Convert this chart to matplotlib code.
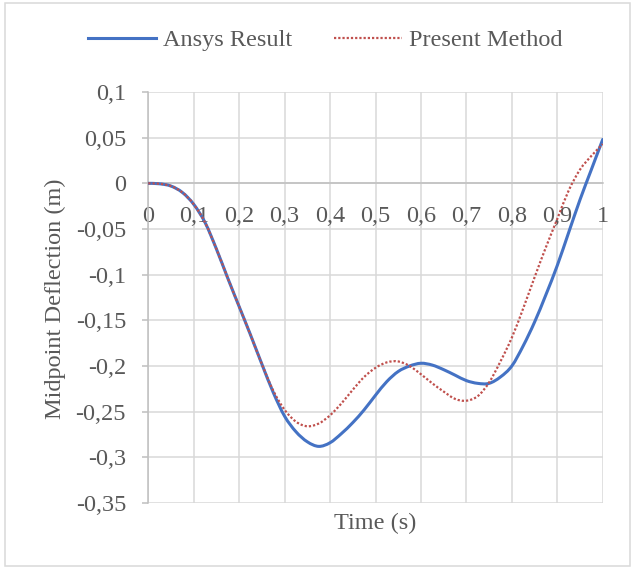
import matplotlib.pyplot as plt
from matplotlib.patches import Rectangle, PathPatch
from matplotlib.path import Path
from matplotlib.lines import Line2D

# time axis (s) and midpoint deflection (m)
time = [0.000, 0.025, 0.050, 0.075, 0.100, 0.125, 0.150, 0.175, 0.200, 0.225,
        0.250, 0.275, 0.300, 0.325, 0.350, 0.375, 0.400, 0.425, 0.450, 0.475,
        0.500, 0.525, 0.550, 0.575, 0.600, 0.625, 0.650, 0.675, 0.700, 0.725,
        0.750, 0.775, 0.800, 0.825, 0.850, 0.875, 0.900, 0.925, 0.950, 0.975,
        1.000]
ansys = [0.0, -0.0005, -0.003, -0.010, -0.023, -0.043, -0.072, -0.104, -0.135, -0.166,
         -0.198, -0.229, -0.255, -0.272, -0.283, -0.288, -0.284, -0.274, -0.262, -0.248,
         -0.232, -0.217, -0.206, -0.200, -0.197, -0.199, -0.204, -0.210, -0.216, -0.219,
         -0.219, -0.212, -0.200, -0.178, -0.152, -0.122, -0.090, -0.054, -0.018, 0.015,
         0.048]
present = [0.0, -0.0005, -0.003, -0.010, -0.023, -0.043, -0.072, -0.104, -0.135, -0.166,
           -0.198, -0.227, -0.248, -0.261, -0.266, -0.263, -0.254, -0.241, -0.226, -0.212,
           -0.202, -0.196, -0.195, -0.200, -0.209, -0.219, -0.228, -0.236, -0.238, -0.233,
           -0.218, -0.195, -0.169, -0.137, -0.103, -0.070, -0.039, -0.008, 0.015, 0.030,
           0.043]

xticks = [0, 0.1, 0.2, 0.3, 0.4, 0.5, 0.6, 0.7, 0.8, 0.9, 1.0]
xlabels = ["0", "0,1", "0,2", "0,3", "0,4", "0,5", "0,6", "0,7", "0,8", "0,9", "1"]
yticks = [0.1, 0.05, 0, -0.05, -0.1, -0.15, -0.2, -0.25, -0.3, -0.35]
ylabels = ["0,1", "0,05", "0", "-0,05", "-0,1", "-0,15", "-0,2", "-0,25", "-0,3", "-0,35"]

txt = "#595959"
blue = "#4472C4"
red = "#C0504D"
dots = (0, (1, 0.9))

plt.rcParams['font.family'] = ['Liberation Serif', 'DejaVu Serif']
plt.rcParams['font.size'] = 17.5


def smooth(x, y):
    # excel-style smoothed line: catmull-rom segments as cubic beziers
    n = len(x)
    verts = [(x[0], y[0])]
    codes = [Path.MOVETO]
    for i in range(n - 1):
        a = max(i - 1, 0)
        b = min(i + 2, n - 1)
        c1 = (x[i] + (x[i + 1] - x[a]) / 6, y[i] + (y[i + 1] - y[a]) / 6)
        c2 = (x[i + 1] - (x[b] - x[i]) / 6, y[i + 1] - (y[b] - y[i]) / 6)
        verts += [c1, c2, (x[i + 1], y[i + 1])]
        codes += [Path.CURVE4] * 3
    return Path(verts, codes)


fig = plt.figure(figsize=(6.35, 5.69), dpi=100)
ax = fig.add_axes([148.3 / 635, 1 - 503 / 569, 454.4 / 635, 411 / 569])

ax.add_patch(PathPatch(smooth(time, ansys), fill=False, edgecolor=blue, lw=2.2,
                       capstyle="round", zorder=3))
ax.add_patch(PathPatch(smooth(time, present), fill=False, edgecolor=red, lw=1.6,
                       linestyle=dots, zorder=4))

ax.set_xlim(0, 1)
ax.set_ylim(-0.35, 0.1)
ax.set_xticks(xticks, xlabels)
ax.set_yticks(yticks, ylabels)
ax.grid(True, color="#D9D9D9", lw=1.1, zorder=0)
ax.set_axisbelow(True)

for s in ["top", "right"]:
    ax.spines[s].set_visible(False)
ax.spines["left"].set_color("#BFBFBF")
ax.spines["left"].set_linewidth(1.1)
ax.spines["bottom"].set_position(("data", 0))
ax.spines["bottom"].set_color("#BFBFBF")
ax.spines["bottom"].set_linewidth(1.1)

ax.tick_params(axis="x", length=0, pad=16, colors=txt)
ax.tick_params(axis="y", length=4, width=1.1, color="#BFBFBF", pad=12, labelcolor=txt)

fig.text(55 / 635, 1 - 299 / 569, "Midpoint Deflection (m)", rotation=90,
         ha="center", va="center", color=txt)
fig.text(375 / 635, 1 - 523 / 569, "Time (s)", ha="center", va="center", color=txt)

handles = [Line2D([], [], color=blue, lw=2.2),
           Line2D([], [], color=red, lw=1.6, linestyle=dots)]
leg = fig.legend(handles, ["Ansys Result", "Present Method"], loc="center",
                 bbox_to_anchor=(325 / 635, 1 - 40 / 569), ncol=2, frameon=False,
                 handlelength=2.8, handletextpad=0.3, columnspacing=1.7)
for t in leg.get_texts():
    t.set_color(txt)

fig.patches.append(Rectangle((5 / 635, 3 / 569), 625 / 635, 563 / 569,
                             transform=fig.transFigure, fill=False,
                             edgecolor="#D9D9D9", lw=1.1))

fig.savefig("out.png", dpi=100)
